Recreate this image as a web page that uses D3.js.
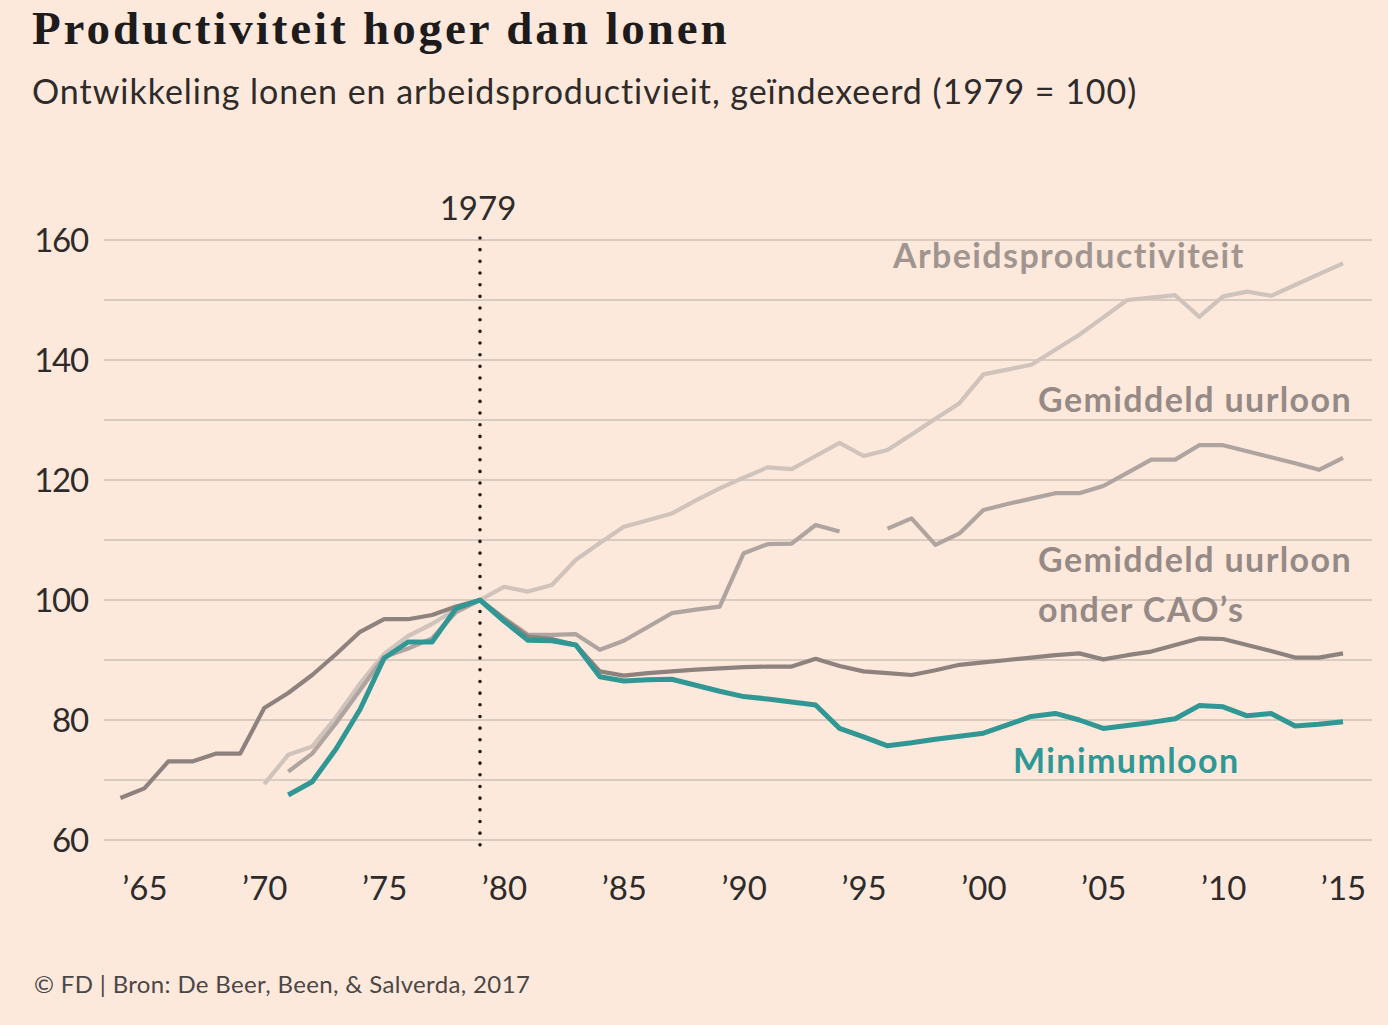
<!DOCTYPE html>
<html>
<head>
<meta charset="utf-8">
<script src="https://cdn.jsdelivr.net/npm/d3@7"></script>
<style>
  html, body { margin: 0; padding: 0; background: #fde9dc; }
  svg { display: block; }
</style>
</head>
<body>
<svg id="chart" width="1388" height="1025"></svg>
<script>
// ---------- DATA ----------
const titleText = "Productiviteit hoger dan lonen";
const subtitleText = "Ontwikkeling lonen en arbeidsproductivieit, geïndexeerd (1979 = 100)";
const sourceText = "© FD | Bron: De Beer, Been, & Salverda, 2017";

const xTickYears = [1965, 1970, 1975, 1980, 1985, 1990, 1995, 2000, 2005, 2010, 2015];
const yTickLabels = [60, 80, 100, 120, 140, 160];
const yGridValues = [60, 70, 80, 90, 100, 110, 120, 130, 140, 150, 160];
const markerYear = 1979;

// Arbeidsproductiviteit 1970-2015
const prodYears = d3.range(1970, 2016);
const prodValues = [69.3, 74.2, 75.6, 80.5, 86.1, 91.0, 94.0, 96.0, 98.5, 100,
  102.2, 101.4, 102.5, 106.7, 109.5, 112.2, 113.3, 114.4, 116.6, 118.6,
  120.4, 122.1, 121.8, 124.0, 126.2, 124.0, 125.0, 127.6, 130.2, 132.8,
  137.6, 138.4, 139.2, 141.7, 144.2, 147.1, 150.0, 150.4, 150.8, 147.2,
  150.6, 151.4, 150.7, 152.5, 154.3, 156.1];

// Gemiddeld uurloon 1971-2015 (gap in 1995)
const avgYears = d3.range(1971, 2016);
const avgValues = [71.4, 74.4, 79.5, 85.0, 90.5, 91.9, 93.6, 98.0, 100,
  97.0, 94.2, 94.2, 94.3, 91.7, 93.2, 95.5, 97.8, 98.4, 98.9,
  107.8, 109.3, 109.4, 112.5, 111.4, null, 111.9, 113.6, 109.2, 111.1,
  115.0, 116.0, 116.9, 117.8, 117.8, 119.0, 121.2, 123.4, 123.4, 125.8,
  125.8, 124.8, 123.8, 122.8, 121.7, 123.7];

// Gemiddeld uurloon onder CAO's 1964-2015
const caoYears = d3.range(1964, 2016);
const caoValues = [67.0, 68.6, 73.1, 73.1, 74.4, 74.4, 82.0, 84.5, 87.5, 91.0,
  94.7, 96.8, 96.8, 97.5, 98.9, 100, 96.8, 93.9, 93.5, 92.5,
  88.1, 87.4, 87.8, 88.1, 88.4, 88.6, 88.8, 88.9, 88.9, 90.2,
  89.0, 88.1, 87.8, 87.5, 88.3, 89.2, 89.6, 90.0, 90.4, 90.8,
  91.1, 90.1, 90.8, 91.4, 92.5, 93.6, 93.5, 92.5, 91.5, 90.4,
  90.4, 91.1];

// Minimumloon 1971-2015
const minYears = d3.range(1971, 2016);
const minValues = [67.5, 69.7, 75.2, 81.8, 90.3, 93.0, 93.0, 98.6, 100,
  96.5, 93.3, 93.2, 92.5, 87.2, 86.5, 86.7, 86.8, 85.8, 84.8,
  83.9, 83.5, 83.0, 82.5, 78.6, 77.2, 75.7, 76.2, 76.8, 77.3,
  77.8, 79.2, 80.6, 81.1, 80.0, 78.6, 79.1, 79.6, 80.2, 82.4,
  82.2, 80.7, 81.1, 79.0, 79.3, 79.7];

const seriesNames = ["Arbeidsproductiviteit", "Gemiddeld uurloon", "Gemiddeld uurloon onder CAO’s", "Minimumloon"];

// ---------- CHART ----------
const svg = d3.select("#chart");
const W = 1388, H = 1025;
svg.append("rect").attr("width", W).attr("height", H).attr("fill", "#fde9dc");

const sans = "Lato, 'Open Sans', sans-serif";
const textDark = "#2e2b2a";

const x = d3.scaleLinear().domain([1979, 2015]).range([480, 1343]);
const y = d3.scaleLinear().domain([60, 160]).range([840, 240]);

// Title & subtitle
svg.append("text")
  .attr("x", 32).attr("y", 44)
  .attr("font-family", "'Liberation Serif', 'Times New Roman', serif")
  .attr("font-weight", "bold")
  .attr("font-size", 47)
  .attr("letter-spacing", "2.9")
  .attr("fill", "#1d1b1b")
  .text(titleText);

svg.append("text")
  .attr("x", 32).attr("y", 104)
  .attr("font-family", sans)
  .attr("font-size", 34)
  .attr("letter-spacing", "0.95")
  .attr("fill", textDark)
  .text(subtitleText);

// Gridlines
svg.append("g").selectAll("line")
  .data(yGridValues).join("line")
  .attr("x1", 104).attr("x2", 1372)
  .attr("y1", d => y(d)).attr("y2", d => y(d))
  .attr("stroke", "#dacbc1").attr("stroke-width", 2);

// Y axis labels
const yAxis = d3.axisLeft(y).tickValues(yTickLabels).tickSize(0).tickPadding(0);
const gy = svg.append("g").attr("transform", "translate(88,0)").call(yAxis);
gy.select(".domain").remove();
gy.selectAll("text")
  .attr("font-family", sans).attr("font-size", 33).attr("fill", textDark)
  .attr("letter-spacing", "-1.2")
  .attr("dy", "0.36em");

// X axis labels
const xAxis = d3.axisBottom(x).tickValues(xTickYears).tickSize(0).tickPadding(0)
  .tickFormat(d => "’" + String(d).slice(2));
const gx = svg.append("g").attr("transform", "translate(0,876)").call(xAxis);
gx.select(".domain").remove();
gx.selectAll("text")
  .attr("font-family", sans).attr("font-size", 33).attr("fill", textDark)
  .attr("dy", "0.72em");

// 1979 marker
svg.append("line")
  .attr("x1", x(markerYear)).attr("x2", x(markerYear))
  .attr("y1", y(160) - 2).attr("y2", y(60) + 6)
  .attr("stroke", "#1f1d1c").attr("stroke-width", 3.6)
  .attr("stroke-linecap", "round")
  .attr("stroke-dasharray", "0 11.67");
svg.append("text")
  .attr("x", x(markerYear) - 2).attr("y", 220)
  .attr("text-anchor", "middle")
  .attr("font-family", sans).attr("font-size", 33).attr("fill", textDark)
  .text(String(markerYear));

// Lines
const line = d3.line()
  .defined(d => d[1] != null)
  .x(d => x(d[0])).y(d => y(d[1]));

const series = [
  { years: prodYears, values: prodValues, color: "#cfc3bc", width: 4.2 },
  { years: avgYears, values: avgValues, color: "#afa49f", width: 4.2 },
  { years: caoYears, values: caoValues, color: "#8e827e", width: 4.2 },
  { years: minYears, values: minValues, color: "#309794", width: 5 }
];

svg.append("g").selectAll("path")
  .data(series).join("path")
  .attr("d", s => line(s.years.map((yr, i) => [yr, s.values[i]])))
  .attr("fill", "none")
  .attr("stroke", s => s.color)
  .attr("stroke-width", s => s.width)
  .attr("stroke-linejoin", "round")
  .attr("stroke-linecap", "butt");

// Series labels
const labelGray = "#958a86";
const lbl = (txt, lx, ly, color) => svg.append("text")
  .attr("x", lx).attr("y", ly)
  .attr("font-family", sans).attr("font-weight", "bold")
  .attr("font-size", 34).attr("letter-spacing", "1.4")
  .attr("fill", color).text(txt);

lbl(seriesNames[0], 893, 268, "#a0958f");
lbl(seriesNames[1], 1038, 412, labelGray);
lbl("Gemiddeld uurloon", 1038, 572, labelGray);
lbl("onder CAO’s", 1038, 622, labelGray);
lbl(seriesNames[3], 1013, 773, "#2f9794");

// Source
svg.append("text")
  .attr("x", 34).attr("y", 993)
  .attr("font-family", sans).attr("font-size", 24)
  .attr("letter-spacing", "0.35")
  .attr("fill", "#4a4746")
  .text(sourceText);
</script>
</body>
</html>
